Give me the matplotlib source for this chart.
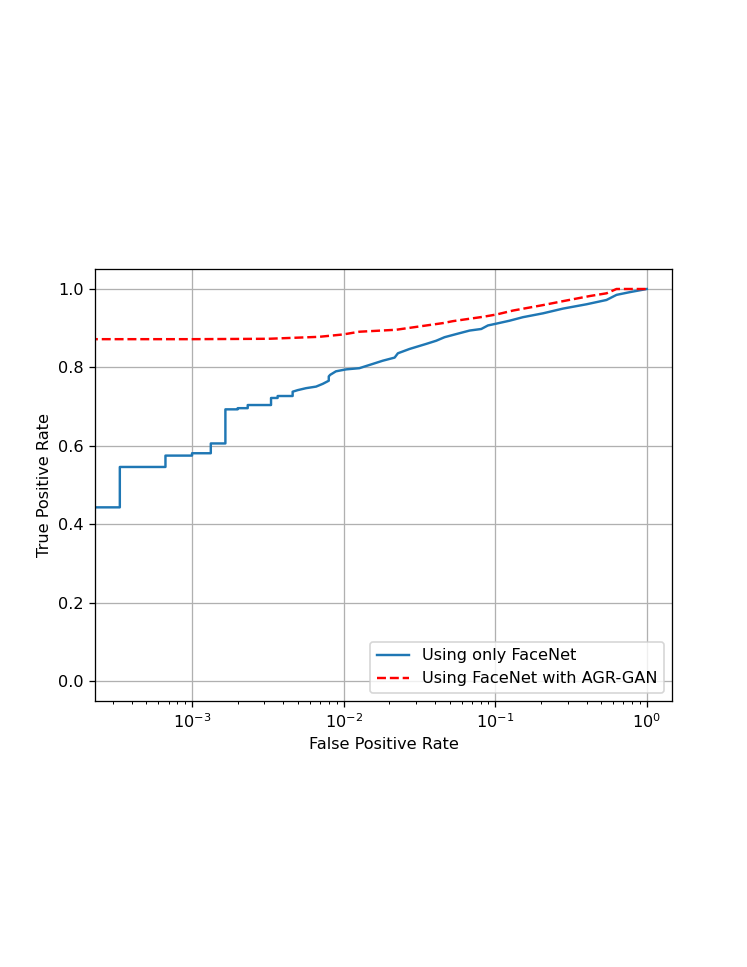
import numpy as np
import matplotlib
matplotlib.use('Agg')
import matplotlib.pyplot as plt

# ROC points (fpr, tpr)
fprFaceNet = [0.0, 3.34e-4, 3.34e-4, 6.68e-4, 6.68e-4, 1.0e-3, 1.0e-3, 1.33e-3, 1.33e-3,
              1.66e-3, 1.66e-3, 2.0e-3, 2.0e-3, 2.33e-3, 2.33e-3, 3.32e-3, 3.32e-3,
              3.67e-3, 3.67e-3, 4.61e-3, 4.61e-3, 4.98e-3, 5.65e-3, 6.58e-3, 7.28e-3,
              7.98e-3, 7.98e-3, 8.15e-3, 8.9e-3, 0.0104, 0.0127, 0.0156, 0.0181, 0.0217,
              0.0228, 0.0272, 0.0351, 0.0408, 0.0463, 0.0553, 0.0678, 0.0809, 0.0895,
              0.1, 0.124, 0.152, 0.207, 0.280, 0.400, 0.542, 0.631, 0.773, 1.0]
tprFaceNet = [0.443, 0.443, 0.546, 0.546, 0.575, 0.575, 0.581, 0.581, 0.606,
              0.606, 0.693, 0.693, 0.696, 0.696, 0.704, 0.704, 0.722,
              0.722, 0.727, 0.727, 0.738, 0.742, 0.747, 0.751, 0.758,
              0.766, 0.777, 0.781, 0.790, 0.795, 0.798, 0.809, 0.817, 0.825,
              0.836, 0.847, 0.860, 0.868, 0.877, 0.885, 0.894, 0.898, 0.907,
              0.911, 0.919, 0.928, 0.938, 0.950, 0.961, 0.972, 0.985, 0.992, 1.0]

fprAgrGan = [0.0, 1.0e-3, 3.2e-3, 6.9e-3, 9.9e-3, 0.0127, 0.0222, 0.0452, 0.0526,
             0.083, 0.102, 0.131, 0.207, 0.280, 0.420, 0.542, 0.631, 1.0]
tprAgrGan = [0.870, 0.872, 0.873, 0.878, 0.884, 0.891, 0.896, 0.913, 0.918,
             0.929, 0.935, 0.945, 0.959, 0.969, 0.982, 0.989, 1.0, 1.0]

labels = ['Using only FaceNet', 'Using FaceNet with AGR-GAN']

scale = 577 / 496
dpi = 100 * scale

fig = plt.figure(figsize=(747 / dpi, 967 / dpi), dpi=dpi)
ax = fig.add_axes([95 / 747, (967 - 701) / 967, 577 / 747, 432 / 967])

ax.plot(fprFaceNet, tprFaceNet, color='#1f77b4', lw=1.5, label=labels[0])
ax.plot(fprAgrGan, tprAgrGan, 'r--', lw=1.5, label=labels[1])
ax.set_xscale('log')
ax.set_xlim(10 ** -3.64, 10 ** 0.166)
ax.set_ylim(-0.051, 1.051)
ax.set_yticks([0.0, 0.2, 0.4, 0.6, 0.8, 1.0])
ax.grid(True, which='major', color='#b0b0b0', lw=0.8)
ax.set_xlabel('False Positive Rate')
ax.set_ylabel('True Positive Rate')
ax.legend(loc='lower right')

fig.savefig('out.png', dpi=dpi)
